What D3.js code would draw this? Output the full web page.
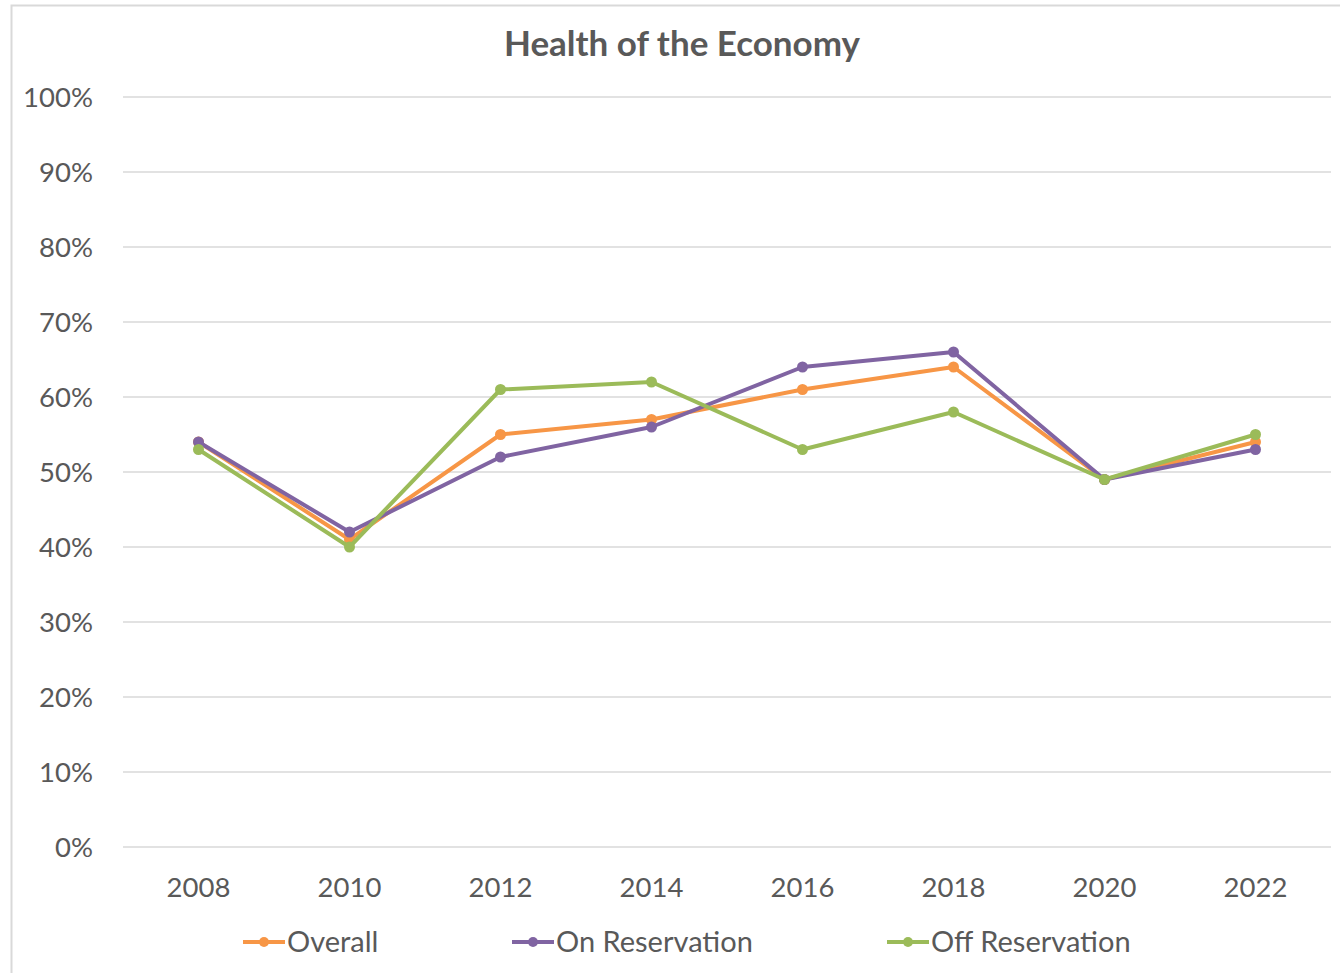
<!DOCTYPE html>
<html>
<head>
<meta charset="utf-8">
<script src="https://cdn.jsdelivr.net/npm/d3@7"></script>
<style>
  body { margin: 0; background: #fff; overflow: hidden; }
  text { font-family: Lato, "Open Sans", sans-serif; fill: #595959; }
</style>
</head>
<body>
<div id="chart"></div>
<script>
// datos
const years = ["2008", "2010", "2012", "2014", "2016", "2018", "2020", "2022"];
const overall = [54, 41, 55, 57, 61, 64, 49, 54];
const onReservation = [54, 42, 52, 56, 64, 66, 49, 53];
const offReservation = [53, 40, 61, 62, 53, 58, 49, 55];
const yTicks = [0, 10, 20, 30, 40, 50, 60, 70, 80, 90, 100];
const seriesNames = ["Overall", "On Reservation", "Off Reservation"];
const seriesColors = ["#F79646", "#8064A2", "#9BBB59"];

const width = 1340, height = 973;
const plotLeft = 123, plotRight = 1331, plotTop = 97, plotBottom = 847;

const svg = d3.select("#chart").append("svg")
  .attr("width", width)
  .attr("height", height);

// marco del grafico
svg.append("rect")
  .attr("x", 11.5).attr("y", 5.5)
  .attr("width", 1340).attr("height", 980)
  .attr("fill", "none")
  .attr("stroke", "#d9d9d9")
  .attr("stroke-width", 2);

svg.append("text")
  .attr("x", 682).attr("y", 56)
  .attr("text-anchor", "middle")
  .attr("font-size", 35)
  .attr("font-weight", "bold")
  .text("Health of the Economy");

const x = d3.scaleBand().domain(years).range([plotLeft, plotRight]);
const y = d3.scaleLinear().domain([0, 100]).range([plotBottom, plotTop]);

// lineas de la grilla
svg.append("g")
  .selectAll("line")
  .data(yTicks)
  .join("line")
  .attr("x1", plotLeft).attr("x2", plotRight)
  .attr("y1", d => y(d)).attr("y2", d => y(d))
  .attr("stroke", "#d9d9d9")
  .attr("stroke-width", 1.5);

const yAxis = svg.append("g")
  .attr("transform", `translate(${plotLeft - 30},0)`)
  .call(d3.axisLeft(y).tickValues(yTicks).tickFormat(d => d + "%").tickSize(0));
yAxis.select(".domain").remove();
yAxis.selectAll("text")
  .attr("x", 0)
  .attr("dy", "0.36em")
  .attr("font-size", 27.5)
  .attr("fill", "#595959")
  .attr("font-family", "Lato, 'Open Sans', sans-serif");

const xAxis = svg.append("g")
  .attr("transform", `translate(0,${plotBottom + 40})`)
  .call(d3.axisBottom(x).tickSize(0));
xAxis.select(".domain").remove();
xAxis.selectAll("text")
  .attr("y", 0)
  .attr("dy", "0.36em")
  .attr("font-size", 27.5)
  .attr("fill", "#595959")
  .attr("font-family", "Lato, 'Open Sans', sans-serif");

const cx = d => x(d) + x.bandwidth() / 2;
const line = d3.line().x((d, i) => cx(years[i])).y(d => y(d));
const allSeries = [overall, onReservation, offReservation];

allSeries.forEach((values, k) => {
  const g = svg.append("g");
  g.append("path")
    .datum(values)
    .attr("d", line)
    .attr("fill", "none")
    .attr("stroke", seriesColors[k])
    .attr("stroke-width", 4)
    .attr("stroke-linejoin", "round");
  g.selectAll("circle")
    .data(values)
    .join("circle")
    .attr("cx", (d, i) => cx(years[i]))
    .attr("cy", d => y(d))
    .attr("r", 5.5)
    .attr("fill", seriesColors[k]);
});

// leyenda
const legendX = [243, 512, 887];
const legend = svg.append("g").attr("transform", "translate(0,942)");
seriesNames.forEach((name, k) => {
  const item = legend.append("g").attr("transform", `translate(${legendX[k]},0)`);
  item.append("line")
    .attr("x1", 0).attr("x2", 42)
    .attr("stroke", seriesColors[k])
    .attr("stroke-width", 4);
  item.append("circle")
    .attr("cx", 21).attr("r", 5)
    .attr("fill", seriesColors[k]);
  item.append("text")
    .attr("x", 44)
    .attr("dy", "0.36em")
    .attr("font-size", 29)
    .text(name);
});
</script>
</body>
</html>
